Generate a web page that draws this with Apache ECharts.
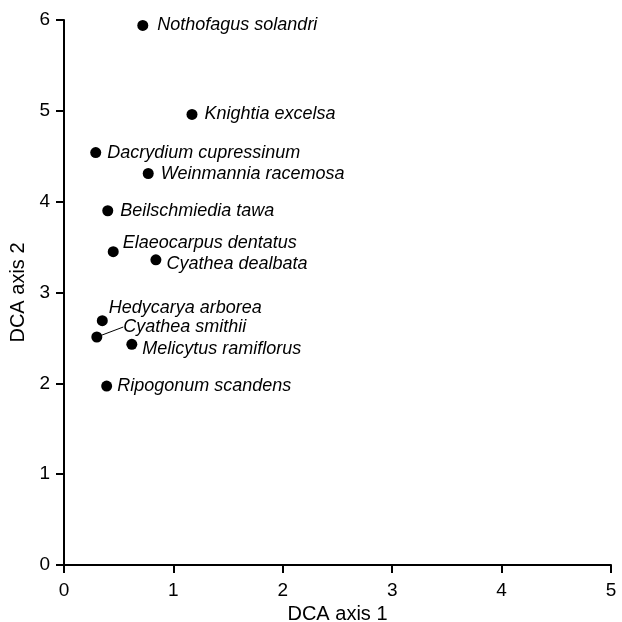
<!DOCTYPE html>
<html>
<head>
<meta charset="utf-8">
<script src="https://cdn.jsdelivr.net/npm/echarts@6/dist/echarts.min.js"></script>
<style>
  html, body { margin: 0; padding: 0; background: #fff; }
  #main { width: 622px; height: 622px; }
</style>
</head>
<body>
<div id="main"></div>
<script>
// species names
var species = [
    'Nothofagus solandri', 'Knightia excelsa', 'Dacrydium cupressinum',
    'Weinmannia racemosa', 'Beilschmiedia tawa', 'Elaeocarpus dentatus',
    'Cyathea dealbata', 'Hedycarya arborea', 'Cyathea smithii',
    'Melicytus ramiflorus', 'Ripogonum scandens'
];
// DCA axis 1 scores
var axis1 = [0.72, 1.17, 0.29, 0.77, 0.40, 0.45, 0.84, 0.35, 0.30, 0.62, 0.39];
// DCA axis 2 scores
var axis2 = [5.94, 4.96, 4.54, 4.31, 3.90, 3.45, 3.36, 2.69, 2.51, 2.43, 1.97];

// label shifts (dx, dy) from the default right-hand position
var labelShift = {
    'Nothofagus solandri': [2, 0],
    'Dacrydium cupressinum': [-1, 0],
    'Ripogonum scandens': [-2, 0],
    'Elaeocarpus dentatus': [-3, -9],
    'Cyathea dealbata': [-2, 4],
    'Hedycarya arborea': [-6, -13],
    'Cyathea smithii': [14, -10],
    'Melicytus ramiflorus': [-2, 5]
};

var chart = echarts.init(document.getElementById('main'));

var data = species.map(function (name, i) {
    var item = { name: name, value: [axis1[i], axis2[i]] };
    if (name === 'Cyathea smithii') {
        item.labelLine = { show: true, lineStyle: { color: '#000', width: 1 } };
    }
    return item;
});

var font = 'Liberation Sans, Arial, sans-serif';
var axisName = { color: '#000', fontSize: 20, fontFamily: font };

chart.setOption({
    animation: false,
    grid: { left: 64, right: 11, top: 20, bottom: 57, outerBoundsMode: 'none', containLabel: false },
    xAxis: {
        type: 'value', min: 0, max: 5, interval: 1,
        name: 'DCA axis 1', nameLocation: 'middle', nameGap: 34,
        nameTextStyle: axisName,
        axisLine: { show: true, onZero: false, lineStyle: { color: '#000', width: 2 } },
        axisTick: { show: true, length: 8, lineStyle: { color: '#000', width: 2 } },
        axisLabel: { color: '#000', fontSize: 19, margin: 16, fontFamily: font },
        splitLine: { show: false }
    },
    yAxis: {
        type: 'value', min: 0, max: 6, interval: 1,
        name: 'DCA axis 2', nameLocation: 'middle', nameGap: 33,
        nameTextStyle: axisName,
        axisLine: { show: true, onZero: false, lineStyle: { color: '#000', width: 2 } },
        axisTick: { show: true, length: 8, lineStyle: { color: '#000', width: 2 } },
        axisLabel: { color: '#000', fontSize: 19, margin: 14, fontFamily: font },
        splitLine: { show: false }
    },
    series: [{
        type: 'scatter',
        symbol: 'circle',
        symbolSize: 11,
        itemStyle: { color: '#000', opacity: 1 },
        data: data,
        label: {
            show: true,
            position: 'right',
            distance: 7,
            formatter: '{b}',
            color: '#000',
            fontSize: 18,
            fontStyle: 'italic',
            fontFamily: font
        },
        labelLayout: function (params) {
            var s = labelShift[species[params.dataIndex]];
            return s ? { dx: s[0], dy: s[1] } : {};
        }
    }]
});
</script>
</body>
</html>
